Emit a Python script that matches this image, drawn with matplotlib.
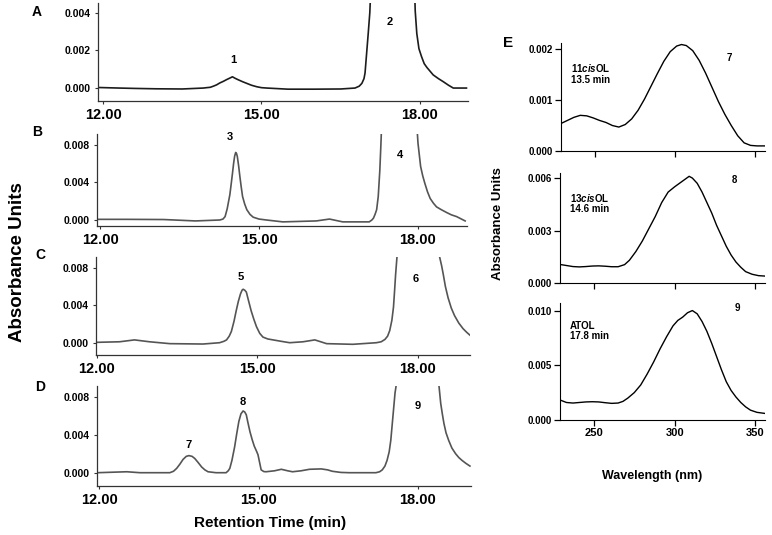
import matplotlib
matplotlib.use("Agg")
import matplotlib.pyplot as plt

# chromatograms: retention time (min) and absorbance
# values above the top of each panel are where the big peak leaves the frame
a_time = [11.90, 12.30, 12.60, 13.00, 13.50, 13.90, 13.96, 14.03, 14.09, 14.15, 14.21,
          14.28, 14.34, 14.40, 14.45, 14.50, 14.56, 14.64, 14.72, 14.81, 14.91, 15.00,
          15.10, 15.50, 16.00, 16.50, 16.77, 16.85, 16.90, 16.94, 16.96, 16.99, 17.02,
          17.05, 17.08, 17.50, 17.89, 17.91, 17.94, 17.98, 18.03, 18.08, 18.13, 18.19,
          18.25, 18.35, 18.44, 18.54, 18.63, 18.88]
a_abs = [0.00003, 0.0, -0.00002, -0.00004, -0.00005, 0.0, 0.00002, 0.00004, 0.0001,
         0.00017, 0.00027, 0.00036, 0.00045, 0.00053, 0.0006, 0.00052, 0.00044, 0.00034,
         0.00025, 0.00015, 0.00007, 0.00002, 0.0, -0.00006, -0.00006, -0.00005, 0.0,
         0.0001, 0.00025, 0.0005, 0.0008, 0.00185, 0.0029, 0.004, 0.006, 0.03, 0.006,
         0.0041, 0.0029, 0.0021, 0.00167, 0.0013, 0.0011, 0.0009, 0.0007, 0.0005, 0.00034,
         0.00015, 0.0, 0.0]

b_time = [11.94, 12.50, 13.20, 13.80, 14.26, 14.32, 14.36, 14.40, 14.42, 14.45, 14.47,
          14.50, 14.52, 14.54, 14.56, 14.575, 14.59, 14.615, 14.64, 14.665, 14.69, 14.73,
          14.77, 14.83, 14.89, 15.00, 15.14, 15.45, 16.08, 16.33, 16.58, 17.08, 17.13,
          17.16, 17.19, 17.22, 17.25, 17.28, 17.30, 17.32, 17.60, 17.98, 18.00, 18.05,
          18.09, 18.13, 18.18, 18.23, 18.29, 18.35, 18.44, 18.54, 18.63, 18.73, 18.82, 18.89]
b_abs = [0.00007, 0.00007, 0.00005, -0.0001, 0.0, 0.0001, 0.00036, 0.0012, 0.0018, 0.0027,
         0.0036, 0.005, 0.006, 0.0068, 0.0072, 0.0071, 0.0068, 0.0058, 0.0046, 0.0035,
         0.0025, 0.0017, 0.0011, 0.0006, 0.0003, 0.0001, 0.0, -0.0002, -0.0001, 0.0001,
         -0.0002, -0.0002, 0.0, 0.0002, 0.0006, 0.0011, 0.0025, 0.0053, 0.008, 0.011,
         0.03, 0.01, 0.0082, 0.0057, 0.0047, 0.0039, 0.003, 0.0023, 0.0018, 0.0014, 0.0011,
         0.0008, 0.00055, 0.00036, 0.0001, -0.0001]

c_time = [12.00, 12.43, 12.71, 12.99, 13.37, 13.99, 14.30, 14.38, 14.43, 14.48, 14.52,
          14.57, 14.61, 14.65, 14.69, 14.72, 14.74, 14.77, 14.80, 14.84, 14.89, 14.94,
          14.99, 15.05, 15.11, 15.20, 15.30, 15.45, 15.61, 15.86, 16.08, 16.30, 16.79,
          17.23, 17.32, 17.39, 17.44, 17.48, 17.52, 17.55, 17.57, 17.59, 17.62, 18.00,
          18.39, 18.41, 18.45, 18.48, 18.52, 18.57, 18.63, 18.69, 18.77, 18.85, 18.92, 18.98]
c_abs = [0.00004, 0.0001, 0.0003, 0.0001, -0.0001, -0.00014, 0.0, 0.00015, 0.0003,
         0.0007, 0.0012, 0.0023, 0.0034, 0.0044, 0.0052, 0.0056, 0.0057, 0.0056, 0.0054,
         0.0045, 0.0034, 0.0025, 0.0017, 0.001, 0.0006, 0.0004, 0.0003, 0.00015, 0.0,
         0.0001, 0.0003, -0.0001, -0.00017, 0.0, 0.0001, 0.00035, 0.0007, 0.0013, 0.0024,
         0.0038, 0.0055, 0.0073, 0.0095, 0.03, 0.0098, 0.0092, 0.0082, 0.0073, 0.006,
         0.0048, 0.0037, 0.0029, 0.0021, 0.0015, 0.0011, 0.0008]

d_time = [11.97, 12.52, 12.77, 13.33, 13.40, 13.46, 13.52, 13.58, 13.64, 13.69, 13.75,
          13.80, 13.86, 13.93, 13.99, 14.05, 14.20, 14.39, 14.43, 14.46, 14.50, 14.55,
          14.59, 14.63, 14.67, 14.71, 14.74, 14.77, 14.80, 14.84, 14.88, 14.92, 14.96,
          14.99, 15.02, 15.05, 15.10, 15.14, 15.30, 15.43, 15.55, 15.64, 15.80, 15.96,
          16.18, 16.30, 16.39, 16.55, 16.71, 17.21, 17.28, 17.33, 17.38, 17.42, 17.46,
          17.49, 17.53, 17.57, 17.60, 18.00, 18.40, 18.43, 18.46, 18.49, 18.53, 18.58,
          18.64, 18.71, 18.77, 18.83, 18.90, 18.98]
d_abs = [0.0, 0.0001, 0.0, 0.0, 0.00015, 0.00046, 0.0009, 0.0014, 0.00172, 0.0018,
         0.00172, 0.0015, 0.0011, 0.0006, 0.0003, 0.0001, 0.0, 0.0, 0.0002, 0.00046,
         0.0013, 0.0027, 0.0041, 0.0054, 0.0062, 0.0065, 0.0064, 0.0061, 0.0053, 0.0043,
         0.0035, 0.0028, 0.0023, 0.0019, 0.0011, 0.0003, 0.00012, 0.0001, 0.0002, 0.00036,
         0.0002, 0.0001, 0.0002, 0.00036, 0.0004, 0.0003, 0.00015, 0.00003, 0.0, 0.0,
         0.0001, 0.0003, 0.0007, 0.0013, 0.0022, 0.0034, 0.0059, 0.0084, 0.0095, 0.03,
         0.009, 0.0073, 0.0062, 0.0052, 0.0042, 0.0034, 0.0026, 0.002, 0.0016, 0.0013,
         0.001, 0.0007]

# peak numbers (label, time, height)
a_peaks = [("1", 14.46, 0.0015), ("2", 17.43, 0.0035)]
b_peaks = [("3", 14.45, 0.0088), ("4", 17.66, 0.0069)]
c_peaks = [("5", 14.70, 0.0070), ("6", 17.96, 0.0068)]
d_peaks = [("7", 13.69, 0.0029), ("8", 14.71, 0.0074), ("9", 18.00, 0.0070)]

# UV spectra of peaks 7, 8, 9
e1_wl = [229, 233, 237, 241, 245, 249, 253, 257, 261, 265, 269, 273, 277, 281, 285, 289,
         293, 297, 301, 304, 307, 311, 315, 319, 323, 327, 331, 335, 339, 343, 347, 351, 356]
e1_abs = [0.00054, 0.0006, 0.00066, 0.0007, 0.00069, 0.00065, 0.0006, 0.00056, 0.0005,
          0.00047, 0.00052, 0.00063, 0.0008, 0.00102, 0.00127, 0.00152, 0.00176, 0.00195,
          0.00206, 0.00209, 0.00207, 0.00197, 0.00178, 0.00153, 0.00125, 0.00097, 0.00072,
          0.0005, 0.0003, 0.00016, 0.00011, 0.0001, 0.0001]
e2_wl = [229, 233, 237, 241, 245, 249, 253, 257, 261, 265, 269, 272, 276, 280, 284, 288,
         292, 296, 300, 303, 306, 309, 311, 314, 317, 320, 323, 326, 329, 332, 335, 338,
         341, 344, 348, 352, 357]
e2_abs = [0.00106, 0.001, 0.00094, 0.00092, 0.00094, 0.00097, 0.00098, 0.00096, 0.00093,
          0.00093, 0.00105, 0.0013, 0.0018, 0.0024, 0.0031, 0.0038, 0.0046, 0.0052, 0.0055,
          0.0057, 0.0059, 0.0061, 0.006, 0.0057, 0.0052, 0.0046, 0.004, 0.0033, 0.0027,
          0.0021, 0.0016, 0.0012, 0.0009, 0.00065, 0.0005, 0.00042, 0.00039]
e3_wl = [229, 233, 237, 241, 245, 249, 253, 257, 261, 265, 268, 271, 275, 279, 283, 287,
         291, 295, 299, 302, 305, 308, 311, 314, 317, 320, 323, 326, 329, 332, 335, 338,
         341, 344, 347, 351, 356]
e3_abs = [0.00183, 0.0016, 0.00155, 0.0016, 0.00165, 0.00167, 0.00165, 0.00158, 0.00152,
          0.00155, 0.0017, 0.002, 0.0025, 0.0032, 0.0042, 0.0053, 0.0065, 0.0076, 0.0086,
          0.0091, 0.0094, 0.0098, 0.01, 0.0097, 0.009, 0.0081, 0.007, 0.0058, 0.0046,
          0.0035, 0.0027, 0.0021, 0.0016, 0.0012, 0.0009, 0.0007, 0.0006]

W, H = 772, 535
plt.rcParams['font.family'] = ['Liberation Sans', 'DejaVu Sans']
plt.rcParams['font.weight'] = 'bold'
plt.rcParams['mathtext.fontset'] = 'custom'
plt.rcParams['mathtext.rm'] = 'Liberation Sans:bold'
plt.rcParams['mathtext.it'] = 'Liberation Sans:italic:bold'

fig = plt.figure(figsize=(W / 100, H / 100), dpi=100)


def box(l, t, r, b):
    return fig.add_axes([l / W, 1 - b / H, (r - l) / W, (b - t) / H])


def ftext(x, y, s, **kw):
    fig.text(x / W, 1 - y / H, s, ha='center', va='center', **kw)


chroms = [
    ((98, 3, 468, 101), a_time, a_abs, a_peaks, (11.905, 18.909), (-0.00069, 0.00453),
     [0, 0.002, 0.004], '#1c1c1c'),
    ((97, 134, 467, 226), b_time, b_abs, b_peaks, (11.943, 18.925), (-0.00064, 0.00917),
     [0, 0.004, 0.008], '#555555'),
    ((96, 257, 470, 355), c_time, c_abs, c_peaks, (11.99, 18.98), (-0.00131, 0.00914),
     [0, 0.004, 0.008], '#555555'),
    ((97, 386, 471, 486), d_time, d_abs, d_peaks, (11.96, 19.0), (-0.0014, 0.00913),
     [0, 0.004, 0.008], '#555555'),
]

for rect, t, y, peaks, xl, yl, yt, col in chroms:
    ax = box(*rect)
    ax.plot(t, y, color=col, lw=1.2)
    ax.set_xlim(*xl)
    ax.set_ylim(*yl)
    ax.set_xticks([12, 15, 18])
    ax.set_xticklabels(['12.00', '15.00', '18.00'], fontsize=10.5, fontweight='bold')
    ax.set_yticks(yt)
    ax.set_yticklabels([f'{v:.3f}' for v in yt], fontsize=7.5, fontweight='bold')
    ax.tick_params(axis='y', length=2, width=0.8, pad=3.5, colors='#333333', labelcolor='black')
    ax.tick_params(axis='x', length=2, width=0.8, pad=3, colors='#333333', labelcolor='black')
    for s in ['top', 'right']:
        ax.spines[s].set_visible(False)
    for s in ['left', 'bottom']:
        ax.spines[s].set_color('#333333')
        ax.spines[s].set_linewidth(0.9)
    for lab, px, py in peaks:
        ax.text(px, py, lab, ha='center', va='center', fontsize=8, fontweight='bold')

spectra = [
    ((561, 43, 765, 151), e1_wl, e1_abs, (0, 0.00212), [0, 0.001, 0.002],
     r'11$\mathit{cis}$OL' + '\n13.5 min', 0.82, '7', 334, 0.00183),
    ((560, 173, 765, 283), e2_wl, e2_abs, (0, 0.00629), [0, 0.003, 0.006],
     r'13$\mathit{cis}$OL' + '\n14.6 min', 0.83, '8', 337, 0.0059),
    ((560, 303, 765, 420), e3_wl, e3_abs, (0, 0.01069), [0, 0.005, 0.010],
     'ATOL\n17.8 min', 0.85, '9', 339, 0.0102),
]

for i, (rect, wl, ab, yl, yt, name, ny_name, num, nx, ny) in enumerate(spectra):
    ax = box(*rect)
    ax.plot(wl, ab, color='black', lw=1.0)
    ax.set_xlim(229, 356)
    ax.set_ylim(*yl)
    ax.set_xticks([250, 300, 350])
    ax.set_yticks(yt)
    ax.set_yticklabels([f'{v:.3f}' for v in yt], fontsize=7, fontweight='bold')
    if i == 2:
        ax.set_xticklabels(['250', '300', '350'], fontsize=8, fontweight='bold')
    else:
        ax.set_xticklabels([])
    ax.tick_params(length=4, width=0.9, pad=2)
    for s in ['top', 'right']:
        ax.spines[s].set_visible(False)
    ax.text(0.05, ny_name, name, transform=ax.transAxes, ha='left', va='top',
            fontsize=7, fontweight='bold', linespacing=1.1)
    ax.text(nx, ny, num, ha='center', va='center', fontsize=7, fontweight='bold')

# panel letters and axis titles
for lab, x, y, fs in [("A", 37, 12.5, 10), ("B", 37, 132.5, 10), ("C", 40, 255, 10),
                      ("D", 40, 387, 10), ("E", 508, 43, 11)]:
    ftext(x, y, lab, fontsize=fs, fontweight='bold')

ftext(18, 262, 'Absorbance Units', rotation=90, fontsize=13.5, fontweight='bold')
ftext(270, 523, 'Retention Time (min)', fontsize=11, fontweight='bold')
ftext(498, 224, 'Absorbance Units', rotation=90, fontsize=9.5, fontweight='bold')
ftext(652, 476, 'Wavelength (nm)', fontsize=9, fontweight='bold')

fig.savefig('out.png', dpi=100)
